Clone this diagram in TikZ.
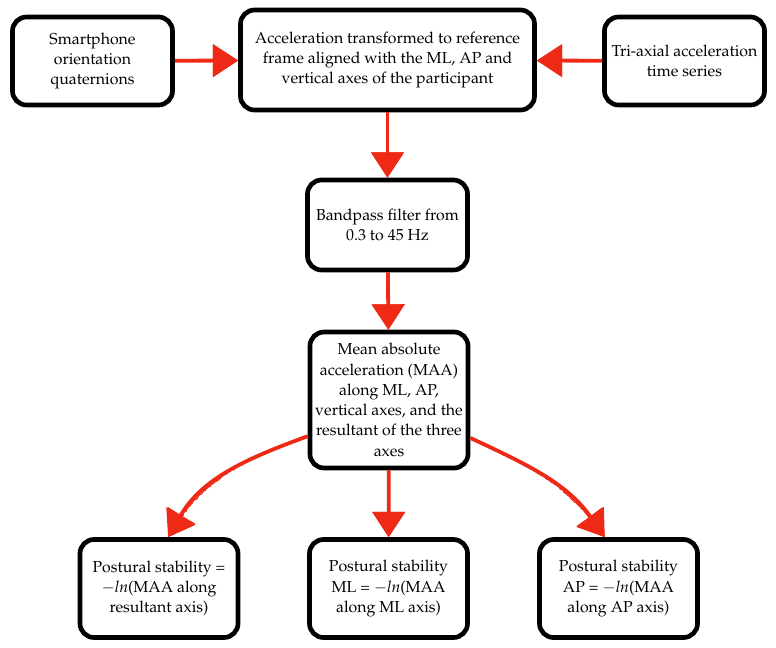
\documentclass[tikz,border=0pt]{standalone}
\usepackage[T1]{fontenc}
\usepackage{mathpazo}
\usetikzlibrary{arrows.meta,decorations.pathmorphing}
\definecolor{flowred}{RGB}{238,42,22}
\tikzset{
  stepbox/.style={draw=black, line width=3.3pt, rounded corners=10pt, align=center,
    inner sep=2pt, font=\fontsize{11.3}{14.4}\selectfont,
    postaction={draw=black, line width=0.9pt, sharp corners, decorate,
      decoration={random steps, segment length=1pt, amplitude=0.5pt}}},
  flow/.style={draw=flowred, line width=2.7pt, -{Triangle[length=18pt,width=23pt]},
    postaction={draw=flowred, line width=0.8pt, sharp corners, decorate,
      decoration={random steps, segment length=1pt, amplitude=0.5pt, post length=17pt}}}
}
\begin{document}
\begin{tikzpicture}[x=0.025cm, y=-0.025cm]
   \useasboundingbox (0,0) rectangle (776,647);
   % top row
   \node[stepbox, minimum width=4.0cm, minimum height=2.2cm] (quat) at (92.5,61) {Smartphone\\orientation\\quaternions};
   \node[stepbox, minimum width=7.35cm, minimum height=2.5cm] (frame) at (387.5,60) {Acceleration transformed to reference\\frame aligned with the ML, AP and\\vertical axes of the participant};
   \node[stepbox, minimum width=4.0cm, minimum height=2.2cm] (triax) at (684.5,61) {Tri-axial acceleration\\time series};
   % middle
   \node[stepbox, minimum width=4.0cm, minimum height=2.25cm] (band) at (387.5,225) {Bandpass filter from\\0.3 to 45 Hz};
   \node[stepbox, minimum width=3.95cm, minimum height=3.4cm] (maa) at (389,400) {Mean absolute\\acceleration (MAA)\\along ML, AP,\\vertical axes, and the\\resultant of the three\\axes};
   % bottom row
   \node[stepbox, minimum width=3.95cm, minimum height=2.45cm] (psres) at (159,588.5) {Postural stability =\\$-\mathit{ln}$(MAA along\\resultant axis)};
   \node[stepbox, minimum width=3.95cm, minimum height=2.45cm] (psml) at (388.5,588.5) {Postural stability\\ML = $-\mathit{ln}$(MAA\\along ML axis)};
   \node[stepbox, minimum width=3.95cm, minimum height=2.45cm] (psap) at (618.5,588.5) {Postural stability\\AP = $-\mathit{ln}$(MAA\\along AP axis)};

   \draw[flow] (quat) -- (frame);
   \draw[flow] (triax) -- (frame);
   \draw[flow] (frame) -- (band);
   \draw[flow] (band) -- (maa);
   \draw[flow] (maa.204) to[out=200,in=60] (psres.80);
   \draw[flow] (maa) -- (psml);
   \draw[flow] (maa.335) to[out=-25,in=125] (psap.105);
 \end{tikzpicture}
\end{document}
